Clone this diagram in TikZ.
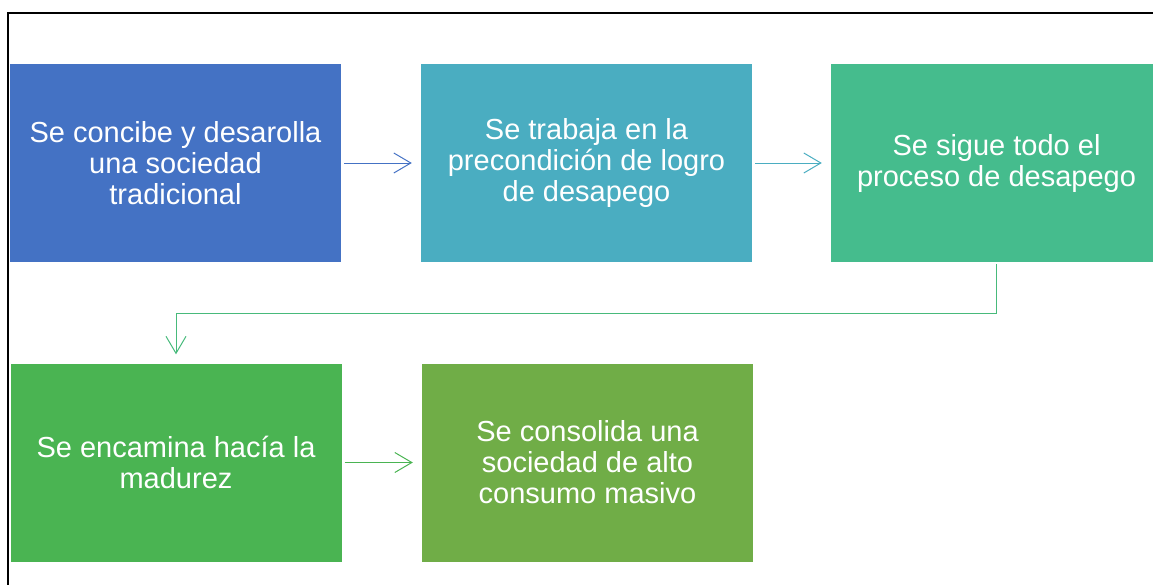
\documentclass[tikz,border=0pt]{standalone}
\usepackage{fontspec}
\setmainfont{Liberation Sans}
\usetikzlibrary{arrows.meta}

\definecolor{stepblue}{HTML}{4472C4}
\definecolor{stepaqua}{HTML}{4AADC1}
\definecolor{stepteal}{HTML}{45BC8D}
\definecolor{stepgreen}{HTML}{4AB452}
\definecolor{steplime}{HTML}{70AD47}

\tikzset{
	stage/.style={fill=#1, draw=none, minimum width=331pt, minimum height=198pt, text=white, align=center, inner sep=0pt,
		font=\fontsize{29pt}{31pt}\selectfont},
	link/.style={draw=#1, line width=1pt, -{Straight Barb[length=17pt,width=20pt]}, shorten <=3pt, shorten >=9pt}
}

\begin{document}
\begin{tikzpicture}[x=1pt,y=-1pt]
	\useasboundingbox (0,0) rectangle (1153,584);
	\clip (0,0) rectangle (1153,584);
	\draw[line width=2pt] (8,585)--(8,12.5)--(1154,12.5); %frame
	
	%ROW ONE
	\node[stage=stepblue] (tradicional) at (175.5,163) {Se concibe y desarolla\\una sociedad\\tradicional};
	\node[stage=stepaqua] (precondicion) at (586.5,163) {Se trabaja en la\\precondición de logro\\de desapego};
	\node[stage=stepteal] (desapego) at (996.5,163) {Se sigue todo el\\proceso de desapego};
	
	%ROW TWO
	\node[stage=stepgreen] (madurez) at (176,462.5) {Se encamina hacía la\\madurez};
	\node[stage=steplime] (consumo) at (587.5,462.5) {Se consolida una\\sociedad de alto\\consumo masivo};
	
	%ARROWS
	\draw[link=stepblue] (tradicional.east)--(precondicion.west);
	\draw[link=stepaqua] (precondicion.east)--(desapego.west);
	\draw[link=stepteal!70!stepgreen, shorten <=2pt] (desapego.south)--++(0,51)-|(madurez.north);
	\draw[link=stepgreen] (madurez.east)--(consumo.west);
\end{tikzpicture}
\end{document}
